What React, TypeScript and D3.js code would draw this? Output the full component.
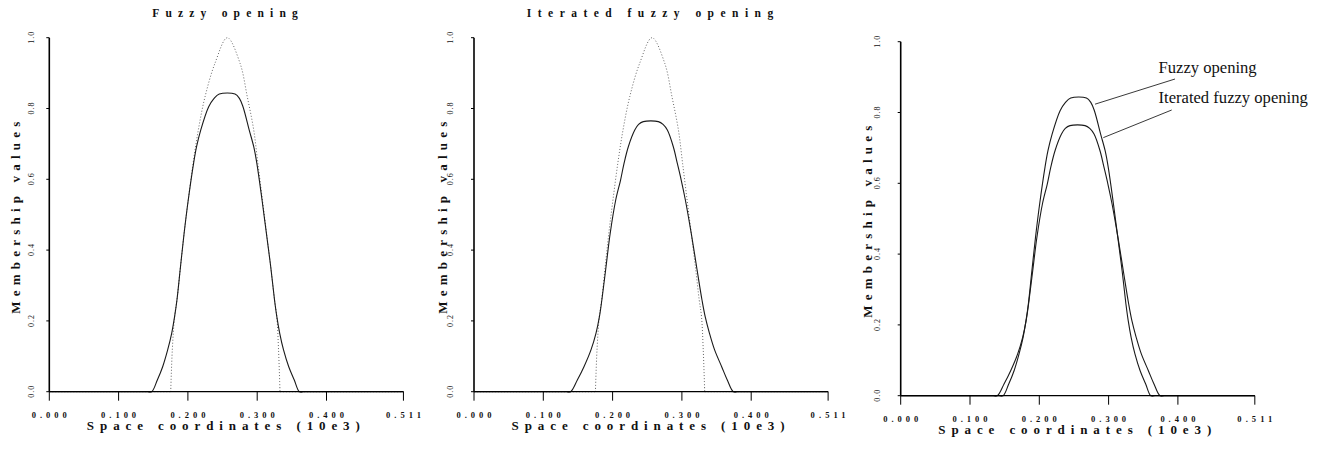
import React from "react";
import * as d3 from "d3";

// ---- Data (space coordinate in 10e3 units, membership value) ----
const originalX = [0, 0.1752, 0.1775, 0.1808, 0.1842, 0.1893, 0.1945, 0.2005, 0.2075, 0.215, 0.2247, 0.2391, 0.2569, 0.2752, 0.2857, 0.295, 0.301, 0.3075, 0.3135, 0.3195, 0.325, 0.3283, 0.3308, 0.3329, 0.511];
const originalY = [0, 0, 0.118, 0.212, 0.259, 0.353, 0.447, 0.5415, 0.645, 0.739, 0.833, 0.928, 1.0, 0.928, 0.833, 0.739, 0.645, 0.5415, 0.447, 0.353, 0.259, 0.212, 0.118, 0, 0];

const fuzzyX = [0, 0.1478, 0.1559, 0.1636, 0.1708, 0.1766, 0.1808, 0.1842, 0.1893, 0.1945, 0.2005, 0.2082, 0.2125, 0.2185, 0.23, 0.2375, 0.2453, 0.268, 0.2745, 0.2795, 0.2885, 0.295, 0.2995, 0.307, 0.3133, 0.3195, 0.325, 0.3283, 0.3325, 0.338, 0.3455, 0.3535, 0.3608, 0.511];
const fuzzyY = [0, 0, 0.033, 0.0706, 0.118, 0.165, 0.212, 0.259, 0.353, 0.447, 0.5415, 0.645, 0.692, 0.739, 0.805, 0.828, 0.841, 0.841, 0.828, 0.805, 0.739, 0.692, 0.645, 0.5415, 0.447, 0.353, 0.259, 0.212, 0.165, 0.118, 0.0706, 0.033, 0, 0];

const iteratedX = [0, 0.1395, 0.1491, 0.1587, 0.1688, 0.176, 0.181, 0.1845, 0.1905, 0.1965, 0.2045, 0.2115, 0.2165, 0.2227, 0.232, 0.2375, 0.2443, 0.266, 0.2728, 0.279, 0.2876, 0.2934, 0.299, 0.305, 0.3135, 0.3212, 0.329, 0.3336, 0.3398, 0.3472, 0.3574, 0.3655, 0.3742, 0.511];
const iteratedY = [0, 0, 0.033, 0.0706, 0.118, 0.165, 0.212, 0.259, 0.353, 0.447, 0.5415, 0.598, 0.645, 0.692, 0.739, 0.755, 0.763, 0.763, 0.755, 0.739, 0.692, 0.645, 0.598, 0.5415, 0.447, 0.353, 0.259, 0.212, 0.165, 0.118, 0.0706, 0.033, 0, 0];

const xTicks = [0, 0.1, 0.2, 0.3, 0.4, 0.511];
const yTicks = [0, 0.2, 0.4, 0.6, 0.8, 1.0];

const panelTitles = ["Fuzzy opening", "Iterated fuzzy opening", ""];
const xAxisTitle = "Space coordinates (10e3)";
const yAxisTitle = "Membership values";

const legendLabels = ["Fuzzy opening", "Iterated fuzzy opening"];
const legendAnchorX = [0.2804, 0.2924];
const legendAnchorY = [0.8235, 0.729];

type Pt = [number, number];
const zip = (xs: number[], ys: number[]): Pt[] => xs.map((x, i) => [x, ys[i]]);

// split a series into leading zeros, the bump (with a short baseline lead-in
// so the curve leaves the axis tangentially), and trailing zeros
function splitBump(pts: Pt[], lead: number) {
  const first = pts.findIndex((p) => p[1] > 0);
  let last = pts.length - 1;
  while (last > 0 && pts[last][1] <= 0) last--;
  const s = Math.max(0, first - 1);
  const e = Math.min(pts.length - 1, last + 1);
  const a: Pt = [pts[s][0] - lead, 0];
  const b: Pt = [pts[e][0] + lead, 0];
  return {
    head: [...pts.slice(0, s + 1).filter((p) => p[0] < a[0]), a],
    bump: lead > 0 ? [a, ...pts.slice(s, e + 1), b] : pts.slice(s, e + 1),
    tail: [b, ...pts.slice(e).filter((p) => p[0] > b[0])],
  };
}

const PLOT = "'Liberation Serif', 'DejaVu Serif', serif";

interface PanelProps {
  x0: number;
  y0: number;
  title: string;
  titleX: number;
  series: { pts: Pt[]; dotted: boolean }[];
  yTickOffset: number;
  yTitleOffset: number;
  legend?: boolean;
}

function Panel({ x0, y0, title, titleX, series, yTickOffset, yTitleOffset, legend }: PanelProps) {
  const xs = d3.scaleLinear().domain([0, 0.511]).range([x0, x0 + 0.511 * 693]);
  const ys = d3.scaleLinear().domain([0, 1]).range([y0, y0 - 354]);
  const smooth = d3
    .line<Pt>()
    .x((d) => xs(d[0]))
    .y((d) => Math.min(ys(d[1]), y0))
    .curve(d3.curveCatmullRom.alpha(0.5));
  const straight = d3
    .line<Pt>()
    .x((d) => xs(d[0]))
    .y((d) => ys(d[1]));
  const xMid = (xs(0) + xs(0.511)) / 2 - 3;
  const yMid = ys(0.5) + 3;
  return (
    <g>
      {title && (
        <text x={titleX} y={17} textAnchor="middle" fontFamily={PLOT} fontSize={11.5} fontWeight="bold" textLength={title.length * 11.2} lengthAdjust="spacing" fill="#111">
          {title}
        </text>
      )}
      {series.map((s, i) => {
        const parts = splitBump(s.pts, s.dotted ? 0 : 0.006);
        const d = (straight(parts.head) || "") + (smooth(parts.bump) || "") + (straight(parts.tail) || "");
        return (
          <path
            key={i}
            d={d}
            fill="none"
            stroke={s.dotted ? "#666" : "#1a1a1a"}
            strokeWidth={s.dotted ? 1 : 1.1}
            strokeDasharray={s.dotted ? "1 2" : undefined}
          />
        );
      })}
      <line x1={xs(0)} x2={xs(0)} y1={ys(0)} y2={ys(1)} stroke="#000" strokeWidth={1.6} />
      <line x1={xs(0)} x2={xs(0.511)} y1={ys(0)} y2={ys(0)} stroke="#000" strokeWidth={1.3} />
      {xTicks.map((t) => (
        <g key={t}>
          <line x1={xs(t)} x2={xs(t)} y1={ys(0)} y2={ys(0) + 9} stroke="#000" strokeWidth={1} />
          <text x={xs(t)} y={ys(0) + 26.5} textAnchor="middle" fontFamily={PLOT} fontSize={8.5} fontWeight="bold" textLength={35} lengthAdjust="spacing" fill="#111">
            {t.toFixed(3)}
          </text>
        </g>
      ))}
      {yTicks.map((t) => (
        <g key={t}>
          <line x1={xs(0) - 3} x2={xs(0)} y1={ys(t)} y2={ys(t)} stroke="#000" strokeWidth={1} />
          <text
            transform={`translate(${xs(0) - yTickOffset},${ys(t)}) rotate(-90)`}
            textAnchor="middle"
            fontFamily={PLOT}
            fontSize={8}
            textLength={12}
            lengthAdjust="spacing"
            fill="#111"
          >
            {t.toFixed(1)}
          </text>
        </g>
      ))}
      <text x={xMid} y={ys(0) + 38.5} textAnchor="middle" fontFamily={PLOT} fontSize={13} fontWeight="bold" textLength={273} lengthAdjust="spacing" fill="#111">
        {xAxisTitle}
      </text>
      <text
        transform={`translate(${xs(0) - yTitleOffset},${yMid}) rotate(-90)`}
        textAnchor="middle"
        fontFamily={PLOT}
        fontSize={13}
        fontWeight="bold"
        textLength={192}
        lengthAdjust="spacing"
        fill="#111"
      >
        {yAxisTitle}
      </text>
      {legend &&
        legendLabels.map((lab, i) => {
          const lx = [1158.5, 1158.5][i];
          const ly = [72.5, 102.5][i];
          const ex = [1175, 1171.7][i];
          const ey = [79, 110][i];
          return (
            <g key={lab}>
              <line x1={xs(legendAnchorX[i])} y1={ys(legendAnchorY[i])} x2={ex} y2={ey} stroke="#222" strokeWidth={0.9} />
              <text x={lx} y={ly} fontFamily="'Liberation Serif', serif" fontSize={16.6} fill="#111">
                {lab}
              </text>
            </g>
          );
        })}
    </g>
  );
}

export default function App() {
  const original = zip(originalX, originalY);
  const fuzzy = zip(fuzzyX, fuzzyY);
  const iterated = zip(iteratedX, iteratedY);
  return (
    <svg
      width={1325}
      height={449}
      viewBox="0 0 1325 449"
      style={{ position: "absolute", left: 0, top: 0, display: "block", background: "#fff" }}
    >
      <rect width={1325} height={449} fill="#fff" />
      <Panel
        x0={49.3}
        y0={391.7}
        title={panelTitles[0]}
        titleX={225}
        series={[
          { pts: original, dotted: true },
          { pts: fuzzy, dotted: false },
        ]}
        yTickOffset={15}
        yTitleOffset={29.5}
      />
      <Panel
        x0={474}
        y0={391.7}
        title={panelTitles[1]}
        titleX={650}
        series={[
          { pts: original, dotted: true },
          { pts: iterated, dotted: false },
        ]}
        yTickOffset={21}
        yTitleOffset={27}
      />
      <Panel
        x0={900.7}
        y0={395.7}
        title={panelTitles[2]}
        titleX={1077}
        series={[
          { pts: fuzzy, dotted: false },
          { pts: iterated, dotted: false },
        ]}
        yTickOffset={20.5}
        yTitleOffset={28.5}
        legend
      />
    </svg>
  );
}
